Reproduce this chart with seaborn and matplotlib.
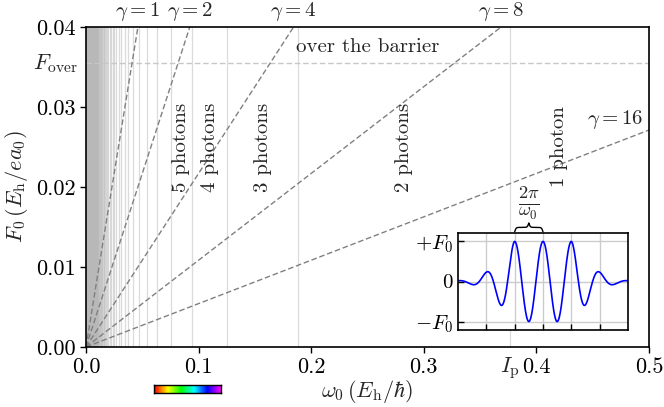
import numpy as np
import pandas as pd
import matplotlib
matplotlib.use('Agg')
import matplotlib.pyplot as plt
import matplotlib.transforms as mtransforms
from matplotlib.colors import ListedColormap
import seaborn as sns

# ionisation potential (Hartree) and derived quantities
Ip = 0.3766
F_over = Ip ** 2 / 4
gammas = [1, 2, 4, 8, 16]
gamma_top = [1, 2, 4, 8]          # labelled above the frame
n_max = 300                        # photon-order lines Ip/n
photon_labels = ['1 photon', '2 photons', '3 photons', '4 photons', '5 photons']
photon_label_x = [0.42, 0.2825, 0.157, 0.110, 0.0847]
photon_label_y = 0.025
visible_nm = [750, 380]            # red -> violet
xticks = [0.0, 0.1, 0.2, 0.3, 0.4, 0.5]
yticks = [0.00, 0.01, 0.02, 0.03, 0.04]
omega_range = [0.0, 0.5]

# inset pulse: flat top over +-1 cycle, soft tails
t_cycles = np.linspace(-3, 3, 1500)
tail_sigma, tail_p = 0.767, 1.42

sns.set_style('ticks')
plt.rcParams['font.family'] = ['cmr10', 'DejaVu Serif']
plt.rcParams['mathtext.fontset'] = 'cm'
plt.rcParams['axes.formatter.use_mathtext'] = True
plt.rcParams['axes.edgecolor'] = 'black'
plt.rcParams['xtick.color'] = 'black'
plt.rcParams['ytick.color'] = 'black'

fig = plt.figure(figsize=(6.64, 4.07), dpi=100)
ax = fig.add_axes([86 / 664, 60 / 407, 563 / 664, 320 / 407])

# n-photon thresholds
for n in range(1, n_max + 1):
    ax.axvline(Ip / n, color='0.72', alpha=0.5, lw=0.9, zorder=0)

# Keldysh lines F = omega*sqrt(2Ip)/gamma
rows = []
for g in gammas:
    for w in omega_range:
        rows.append({'omega': w, 'F': w * np.sqrt(2 * Ip) / g, 'gamma': g})
df = pd.DataFrame(rows)
sns.lineplot(data=df, x='omega', y='F', units='gamma', estimator=None,
             color='0.5', lw=1, ls=(0, (4, 2)), ax=ax)

ax.axhline(F_over, color='0.78', ls=(0, (4, 2)), lw=1, zorder=1)

ax.set_xlim(0, 0.5)
ax.set_ylim(0, 0.04)
ax.set_xticks(xticks)
ax.set_xticklabels(['0.0', '0.1', '0.2', '0.3', '0.4', '0.5'])
ax.set_yticks(yticks)
ax.set_yticklabels(['0.00', '0.01', '0.02', '0.03', '0.04'])
ax.tick_params(direction='out', labelsize=16, length=4, width=1)
for s in ax.spines.values():
    s.set_linewidth(1.2)
ax.set_xlabel(r'$\omega_0\,(E_\mathrm{h}/\hbar)$', fontsize=16, labelpad=1)
ax.set_ylabel(r'$F_0\,(E_\mathrm{h}/ea_0)$', fontsize=16)

ytrans = mtransforms.blended_transform_factory(ax.transAxes, ax.transData)
xtrans = mtransforms.blended_transform_factory(ax.transData, ax.transAxes)
ax.annotate(r'$F_\mathrm{over}$', xy=(0, F_over), xycoords=ytrans,
            xytext=(-6, 0), textcoords='offset points', ha='right', va='center',
            fontsize=16)
ax.annotate(r'$I_\mathrm{p}$', xy=(Ip, 0), xycoords=xtrans,
            xytext=(0, -6), textcoords='offset points', ha='center', va='top',
            fontsize=16)

for x, lab in zip(photon_label_x, photon_labels):
    ax.text(x, photon_label_y, lab, rotation=90, ha='center', va='center', fontsize=15)

ax.text(0.25, 0.0375, 'over the barrier', ha='center', va='center', fontsize=15)

for g in gamma_top:
    x = 0.04 * g / np.sqrt(2 * Ip)
    ax.annotate(r'$\gamma = %d$' % g, xy=(x, 1), xycoords=xtrans,
                xytext=(0, 3), textcoords='offset points', ha='center', va='bottom',
                fontsize=15)
ax.text(0.495, 0.0284, r'$\gamma = 16$', ha='right', va='center', fontsize=15)

# visible spectrum strip below the axis
w_lo = 45.563 / visible_nm[0]
w_hi = 45.563 / visible_nm[1]
cax = ax.inset_axes([w_lo, -0.0058, w_hi - w_lo, 0.0011], transform=ax.transData)
cmap = ListedColormap(plt.cm.hsv(np.linspace(0, 0.85, 256)))
sns.heatmap(np.linspace(0, 1, 256)[None, :], ax=cax, cmap=cmap, cbar=False,
            xticklabels=False, yticklabels=False)
for s in cax.spines.values():
    s.set_visible(True)
    s.set_linewidth(1)
    s.set_color('black')

# inset: pulse
env = np.where(np.abs(t_cycles) <= 1, 1.0,
               np.exp(-((np.abs(t_cycles) - 1).clip(0) / tail_sigma) ** tail_p))
pulse = env * np.cos(2 * np.pi * t_cycles)
axi = fig.add_axes([458 / 664, 77 / 407, 170 / 664, 97 / 407])
sns.lineplot(x=t_cycles, y=pulse, color='blue', lw=1.2, ax=axi)
axi.set_xlim(-3, 3)
axi.set_ylim(-1.21, 1.21)
axi.set_xticks([-2, -1, 0, 1, 2])
axi.set_xticklabels([])
axi.set_yticks([-1, 0, 1])
axi.set_yticklabels([r'$-F_0$', r'$0$', r'$+F_0$'])
axi.grid(True, color='0.8', lw=1)
axi.tick_params(direction='in', labelsize=15, length=4, width=1)
for s in axi.spines.values():
    s.set_linewidth(1.2)


def brace(a, x0, x1, y0, h):
    n = 401
    x = np.linspace(x0, x1, n)
    half = x[:n // 2 + 1]
    beta = 40.0 / (x1 - x0)
    yh = (1 / (1 + np.exp(-beta * (half - half[0])))
          + 1 / (1 + np.exp(-beta * (half - half[-1]))))
    y = np.concatenate((yh, yh[-2::-1]))
    y = y0 + h * (y - 0.5)
    a.plot(x, y, color='black', lw=1, clip_on=False)


brace(axi, -1, 0, 1.24, 0.22)
axi.text(-0.5, 1.5, r'$\frac{2\pi}{\omega_0}$', ha='center', va='bottom', fontsize=19)

fig.savefig('out.png', dpi=100)
